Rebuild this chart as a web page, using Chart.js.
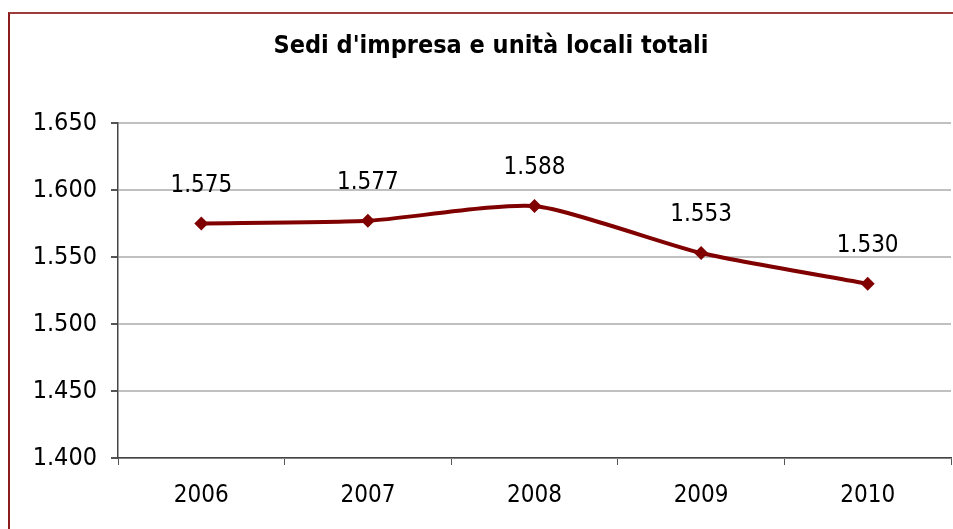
<!DOCTYPE html>
<html>
<head>
<meta charset="utf-8">
<script src="https://cdn.jsdelivr.net/npm/chart.js@4"></script>
<style>
  html, body { margin: 0; padding: 0; background: #fff; overflow: hidden; }
  #wrap { position: relative; width: 953px; height: 529px; overflow: hidden; }
  #frame {
    position: absolute; left: 8px; top: 12px; right: -10px; bottom: -10px;
    border-top: 2px solid #9e3b3b; border-left: 2px solid #8c1c1c;
    pointer-events: none;
  }
  canvas { position: absolute; left: 0; top: 0; }
</style>
</head>
<body>
<div id="wrap">
  <canvas id="chart" width="958" height="529"></canvas>
  <div id="frame"></div>
</div>
<script>
const anni = ["2006", "2007", "2008", "2009", "2010"];
const sedi = [1575, 1577, 1588, 1553, 1530];
const yMin = 1400;
const yMax = 1650;
const yStep = 50;
const titolo = "Sedi d'impresa e unità locali totali";

const FONT = "'DejaVu Sans Condensed', 'DejaVu Sans', sans-serif";

function formatIt(v) {
  return v.toLocaleString("it-IT").replace(/\s/g, ".");
}

// titolo + etichette sopra i punti
const etichette = {
  id: "etichette",
  afterDatasetsDraw(chart) {
    const ctx = chart.ctx;
    const meta = chart.getDatasetMeta(0);
    ctx.save();
    ctx.font = "24px " + FONT;
    ctx.fillStyle = "#000";
    ctx.textAlign = "center";
    ctx.textBaseline = "middle";
    meta.data.forEach((p, i) => {
      ctx.fillText(formatIt(sedi[i]), p.x, p.y - 38);
    });
    ctx.font = "bold 25px " + FONT;
    ctx.fillText(titolo, 491, 46);
    ctx.restore();
  }
};

const ctx = document.getElementById("chart").getContext("2d");
new Chart(ctx, {
  type: "line",
  data: {
    labels: anni,
    datasets: [{
      data: sedi,
      borderColor: "#800000",
      backgroundColor: "#800000",
      borderWidth: 4,
      tension: 0.2,
      pointStyle: "rectRot",
      pointRadius: 7,
      pointBorderWidth: 0,
      pointBackgroundColor: "#800000",
      fill: false
    }]
  },
  options: {
    responsive: false,
    animation: false,
    layout: { padding: { left: 0, right: 0, top: 123, bottom: 11 } },
    plugins: {
      legend: { display: false },
      tooltip: { enabled: false },
      title: { display: false }
    },
    scales: {
      x: {
        offset: true,
        grid: { offset: true, drawOnChartArea: false, tickLength: 7, tickColor: "#555", lineWidth: 1 },
        border: { color: "#444", width: 1.5 },
        ticks: { color: "#000", font: { family: FONT, size: 24 }, padding: 16, maxRotation: 0 },
        afterFit(scale) { scale.height = 60; }
      },
      y: {
        min: yMin,
        max: yMax,
        grid: { color: "#c0c0c0", lineWidth: 2, tickLength: 7, tickColor: "#555" },
        border: { color: "#444", width: 1.5 },
        ticks: {
          stepSize: yStep,
          color: "#000",
          padding: 14,
          font: { family: FONT, size: 25 },
          callback: (v) => formatIt(v)
        },
        afterFit(scale) { scale.width = 118; }
      }
    }
  },
  plugins: [etichette]
});
</script>
</body>
</html>
